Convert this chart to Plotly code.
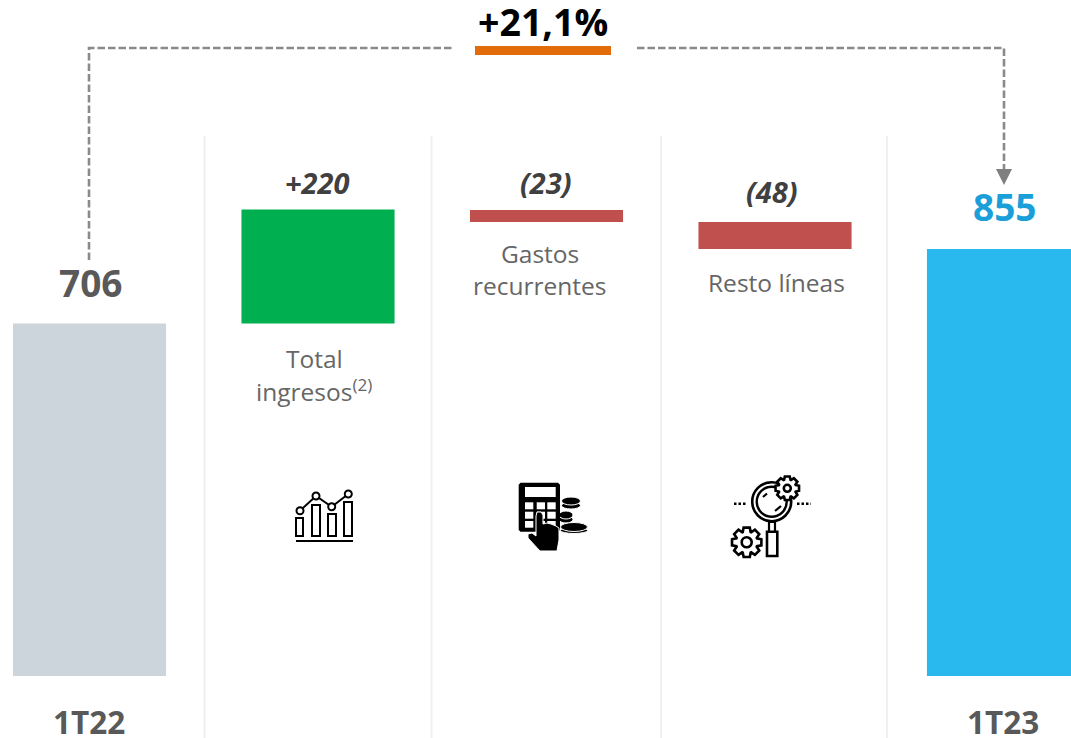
import math
import plotly.graph_objects as go

# ---- data ----
categories = ["1T22", "Total ingresos", "Gastos recurrentes", "Resto líneas", "1T23"]
bar_bases = [0, 706, 909, 855, 0]
bar_heights = [706, 228, 24, 54, 855]
bar_colors = ["#CDD5DC", "#00B050", "#C0504D", "#C0504D", "#29B9EF"]
growth_label = "+21,1%"
total_labels = ["706", "855"]
delta_labels = ["+220", "(23)", "(48)"]

W, H = 1071, 738
FONT = "Open Sans"
GREY = "#666666"
DARK = "#595959"


def X(v):
    return v / W


def Y(v):
    return 1 - v / H


shapes = []
annotations = []


def text(x, y, s, size, color=GREY, bold=False, italic=False, box=None):
    t = s
    if italic:
        t = f"<i>{t}</i>"
    if bold:
        t = f"<b>{t}</b>"
    a = dict(x=X(x), y=Y(y), xref="paper", yref="paper", text=t, showarrow=False,
             xanchor="center", yanchor="middle",
             font=dict(family=FONT, size=size, color=color))
    if box:
        a["height"] = box
    annotations.append(a)


def poly(points, close=False, fill=None, line="#000000", width=1.5, dash=None):
    p = "M" + " L".join(f"{X(a):.5f},{Y(b):.5f}" for a, b in points)
    if close:
        p += " Z"
    s = dict(type="path", path=p, xref="paper", yref="paper",
             line=dict(color=line, width=width))
    if dash:
        s["line"]["dash"] = dash
    if fill:
        s["fillcolor"] = fill
    if width == 0:
        s["line"] = dict(width=0)
    shapes.append(s)


def rect(x0, y0, x1, y1, fill=None, line="#000000", width=1.5):
    poly([(x0, y0), (x1, y0), (x1, y1), (x0, y1)], True, fill, line, width)


def circle(cx, cy, rx, ry=None, fill="#FFFFFF", line="#000000", width=1.5):
    ry = rx if ry is None else ry
    s = dict(type="circle", xref="paper", yref="paper", x0=X(cx - rx), x1=X(cx + rx),
             y0=Y(cy + ry), y1=Y(cy - ry), fillcolor=fill,
             line=dict(color=line, width=width))
    if width == 0:
        s["line"] = dict(width=0)
    shapes.append(s)


def gear(cx, cy, r_out, r_in, r_hole, teeth=8, width=2.6):
    pts = []
    step = 2 * math.pi / teeth
    for i in range(teeth):
        a = i * step
        for da, r in ((-0.30, r_in), (-0.17, r_out), (0.17, r_out), (0.30, r_in)):
            pts.append((cx + r * math.cos(a + da * step * 1.55), cy + r * math.sin(a + da * step * 1.55)))
    poly(pts, True, "#FFFFFF", "#000000", width)
    circle(cx, cy, r_hole, fill="#FFFFFF", width=width)


# separators
for sx in (204.5, 431.5, 661, 887):
    shapes.append(dict(type="line", xref="paper", yref="paper", x0=X(sx), x1=X(sx), y0=Y(136), y1=0,
                       line=dict(color="#EFEFEF", width=2)))

# growth connector
poly([(89, 260), (89, 48), (452, 48)], line="#8A8A8A", width=2.6, dash="7.5px,3px")
poly([(637, 48), (1004, 48), (1004, 170)], line="#8A8A8A", width=2.6, dash="7.5px,3px")
poly([(996, 169), (1012, 169), (1004, 185)], True, "#7F7F7F", width=0)
rect(475, 46, 611, 55, fill="#E36C0A", width=0)

# chart icon
for x0, x1, y0 in ((296, 303, 518), (312, 320, 505), (328, 336, 514), (344, 352, 502)):
    rect(x0, y0, x1, 536, width=2)
poly([(296, 541), (353, 541)], width=2)
poly([(300, 510.7), (316, 496), (331.7, 506.7), (348.3, 494)], width=2)
for cx, cy in ((300, 510.7), (316, 496), (331.7, 506.7), (348.3, 494)):
    circle(cx, cy, 3.5, width=2)

# calculator icon
for cx, cy, rx, ry in ((571, 505.5, 9.5, 3.5), (571, 501, 9.5, 4), (566, 519.5, 7, 3.5), (566, 515, 7, 4),
                       (574, 530.5, 13.5, 3), (574, 527, 13.5, 4.5)):
    circle(cx, cy, rx, ry, fill="#000000", line="#FFFFFF", width=1)
poly([(520.5, 482.7), (558, 482.7), (560, 484.7), (560, 530), (558, 531.7), (520.5, 531.7), (518.7, 530), (518.7, 484.7)],
     True, "#000000", width=0)
rect(525, 487, 555.7, 497, fill="#FFFFFF", width=0)
for ky0, ky1 in ((502.3, 509.3), (511.7, 518.7), (521, 527.7)):
    for kx0, kx1 in ((525, 533.3), (536.7, 545), (547.3, 555.7)):
        rect(kx0, ky0, kx1, ky1, fill="#FFFFFF", width=0)
poly([(536, 516), (537, 512), (541, 512), (543, 515), (543, 524), (547, 523), (551, 524), (556, 526),
      (559, 528), (559, 540), (557, 551), (540, 551), (528, 538), (528, 534), (532, 533), (536, 536)],
     True, "#000000", "#FFFFFF", 1)

# magnifier icon
rect(767, 531.7, 777.3, 556, fill="#FFFFFF", width=2.6)
rect(769, 522, 775, 531.7, fill="#FFFFFF", width=2.2)
circle(771.7, 501.7, 19.5, width=2.6)
circle(771.7, 501.7, 15, width=2.4)
poly([(763, 497), (767, 493.5)], width=2.2)
poly([(775, 511), (781, 506)], width=2.2)
gear(787.3, 488.3, 12, 9, 3.5, teeth=8)
gear(746.7, 542.3, 15, 11, 5, teeth=8)
poly([(734, 503.7), (747, 503.7)], width=2.4, dash="2.5px,2px")
poly([(797, 503.7), (811, 503.7)], width=2.4, dash="2.5px,2px")

# texts
text(543, 21, growth_label, 37.5, "#000000", bold=True, box=40)
text(90, 283, total_labels[0], 37, DARK, bold=True)
text(1004, 206, total_labels[1], 37, "#1B9FD8", bold=True)
text(317, 182, delta_labels[0], 29, "#404040", bold=True, italic=True)
text(546, 183, delta_labels[1], 29, "#404040", bold=True, italic=True)
text(772, 191, delta_labels[2], 29, "#404040", bold=True, italic=True)
text(314, 358, "Total", 24.5)
text(314, 390, "ingresos<sup>(2)</sup>", 24.5)
text(540, 253, "Gastos", 24.5)
text(540, 285, "recurrentes", 24.5)
text(776, 282, "Resto líneas", 24.5)
text(89, 721, categories[0], 31.5, DARK, bold=True, box=32)
text(1003, 721, categories[4], 31.5, DARK, bold=True, box=32)

fig = go.Figure(go.Bar(x=categories, y=bar_heights, base=bar_bases, width=0.67,
                       marker=dict(color=bar_colors, line=dict(width=0)), hoverinfo="skip"))

unit = 228.5
scale = 0.4994
fig.update_layout(
    width=W, height=H, autosize=False, margin=dict(l=0, r=0, t=0, b=0),
    paper_bgcolor="#FFFFFF", plot_bgcolor="#FFFFFF", showlegend=False,
    shapes=shapes, annotations=annotations,
    xaxis=dict(visible=False, type="category", range=[-89.5 / unit, (W - 89.5) / unit], fixedrange=True),
    yaxis=dict(visible=False, range=[(676 - H) / scale, 676 / scale], fixedrange=True),
)
fig.write_html("out.html", config={"displayModeBar": False},
               post_script="document.body.style.margin='0';document.body.style.overflow='hidden';")
